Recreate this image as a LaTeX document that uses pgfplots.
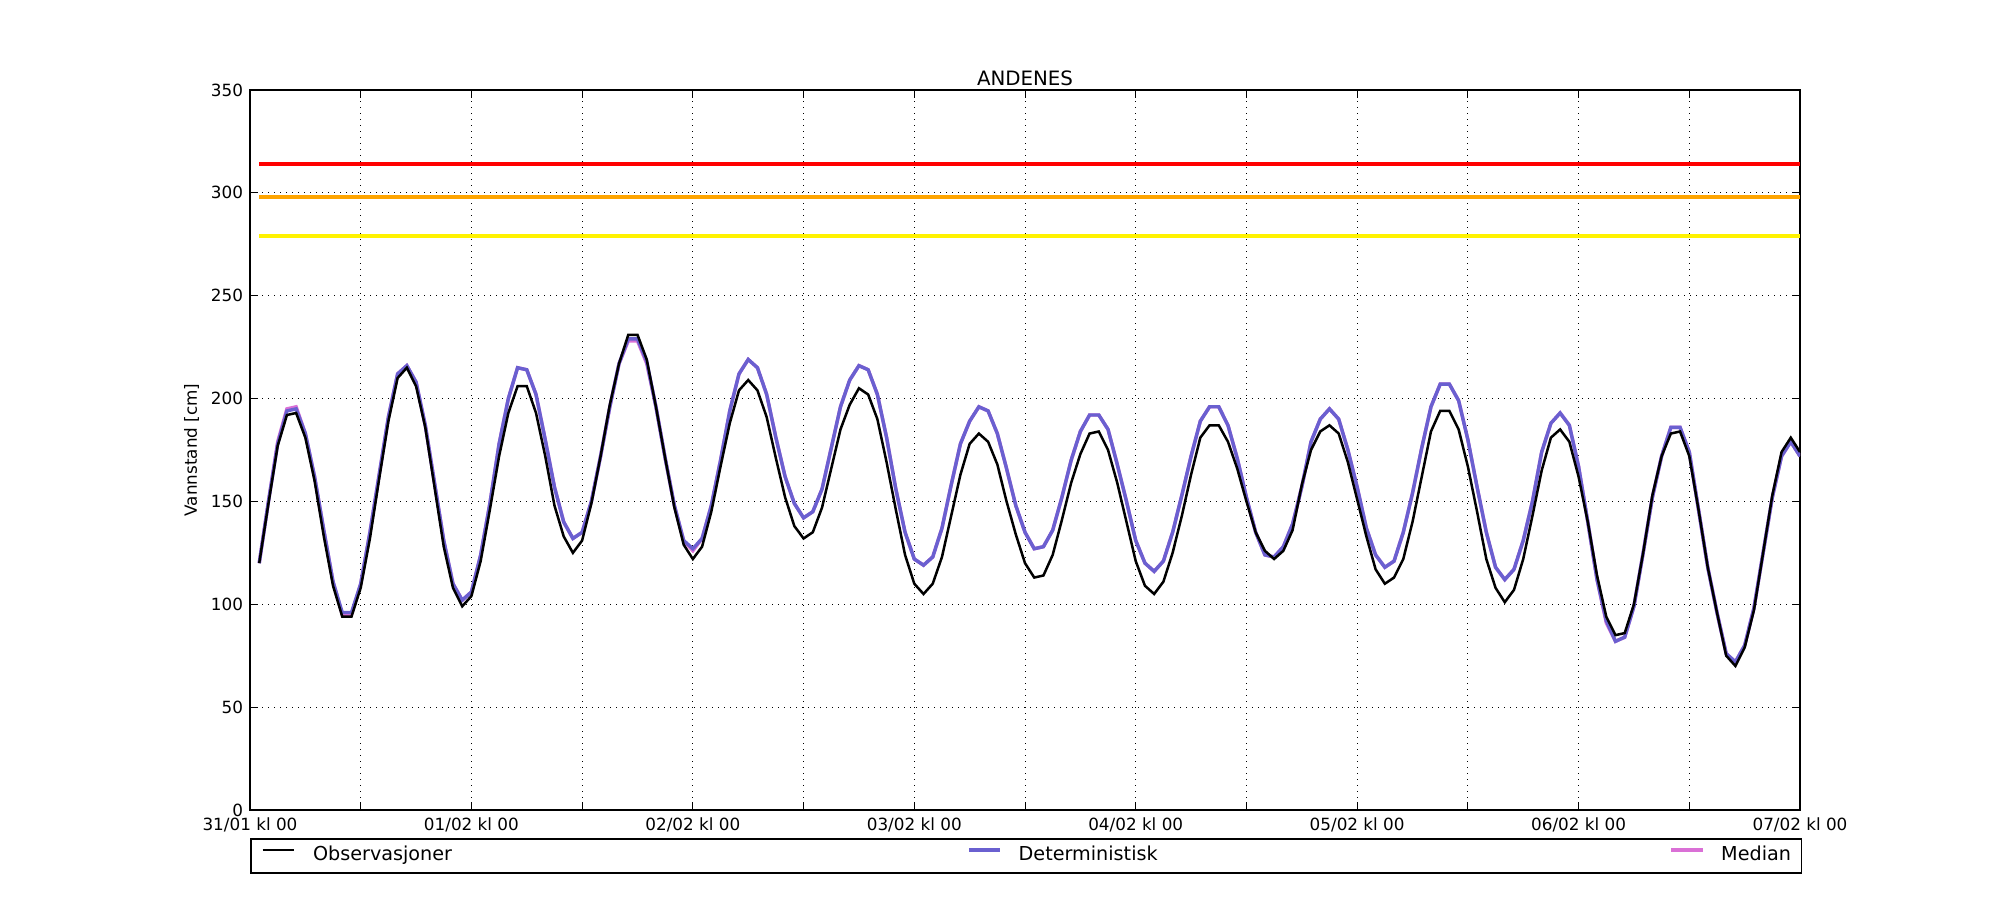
\documentclass[border=0pt]{standalone}
\usepackage{fontspec}
\setmainfont{DejaVu Sans}
\usepackage{pgfplots}
\pgfplotsset{compat=1.18}
\usepackage{pgfplotstable}
\definecolor{detblue}{RGB}{106,96,208}
\definecolor{medpink}{RGB}{218,112,214}
\definecolor{throrange}{RGB}{255,165,0}

\pgfplotstableread{
h obs det med
1 120 120 120
2 149 150 150
3 177 178 179
4 192 194 195
5 193 195 196
6 181 183 183
7 160 162 162
8 133 136 136
9 109 111 111
10 94 96 95
11 94 96 95
12 108 110 110
13 132 135 135
14 161 163 163
15 189 191 191
16 210 212 212
17 215 216 216
18 206 208 208
19 186 187 187
20 157 159 159
21 128 131 131
22 108 110 110
23 99 102 102
24 104 106 106
25 121 124 124
26 146 149 149
27 172 178 178
28 193 200 200
29 206 215 215
30 206 214 214
31 193 202 202
32 172 180 180
33 148 157 157
34 133 140 140
35 125 132 132
36 131 135 135
37 149 150 150
38 172 172 172
39 197 196 196
40 217 217 217
41 231 229 228
42 231 229 228
43 219 218 217
44 196 196 196
45 171 171 171
46 147 148 148
47 129 131 131
48 122 127 126
49 128 132 132
50 145 148 148
51 167 170 170
52 188 194 194
53 204 212 212
54 209 219 219
55 204 215 215
56 191 202 202
57 171 181 181
58 152 162 162
59 138 149 149
60 132 142 142
61 135 145 145
62 147 156 156
63 166 176 176
64 185 196 196
65 197 209 209
66 205 216 216
67 202 214 214
68 190 202 202
69 169 181 181
70 146 156 156
71 124 135 135
72 110 122 122
73 105 119 119
74 110 123 123
75 123 137 137
76 143 158 158
77 163 178 178
78 178 189 189
79 183 196 196
80 179 194 194
81 168 183 183
82 150 166 166
83 134 148 148
84 120 135 135
85 113 127 127
86 114 128 128
87 124 136 136
88 141 152 152
89 159 170 170
90 173 184 184
91 183 192 192
92 184 192 192
93 175 185 185
94 159 168 168
95 140 150 150
96 121 131 131
97 109 120 120
98 105 116 116
99 111 121 121
100 125 135 135
101 143 153 153
102 163 172 172
103 181 189 189
104 187 196 196
105 187 196 196
106 179 187 187
107 166 171 171
108 150 152 152
109 135 135 135
110 126 124 124
111 122 123 123
112 126 128 128
113 136 139 139
114 158 157 157
115 175 179 179
116 184 190 190
117 187 195 195
118 183 190 190
119 169 175 175
120 151 157 157
121 133 137 137
122 117 124 124
123 110 118 118
124 113 121 121
125 122 135 135
126 140 154 154
127 162 176 176
128 184 196 196
129 194 207 207
130 194 207 207
131 185 199 199
132 167 180 180
133 145 157 157
134 122 135 135
135 108 118 118
136 101 112 112
137 107 117 117
138 122 131 131
139 143 150 150
140 165 174 174
141 181 188 188
142 185 193 193
143 179 187 187
144 162 167 167
145 140 140 140
146 114 112 112
147 94 92 91
148 85 82 82
149 86 84 84
150 100 99 99
151 125 125 125
152 153 152 152
153 172 172 172
154 183 186 186
155 184 186 186
156 172 174 174
157 146 146 146
158 118 118 118
159 96 96 96
160 75 76 76
161 70 72 72
162 79 80 80
163 97 98 98
164 125 125 125
165 153 152 152
166 174 172 172
167 181 179 179
168 174 172 172
}\datatable

\pgfplotstableread{
h lvl
1 314
168 314
}\redtable
\pgfplotstableread{
h lvl
1 298
168 298
}\orangetable
\pgfplotstableread{
h lvl
1 279
168 279
}\yellowtable

\begin{document}
\begin{tikzpicture}
\useasboundingbox (-125bp,-45bp) rectangle (875bp,405bp);
\begin{axis}[
  at={(0,0)}, anchor=south west,
  scale only axis, width=775bp, height=360bp,
  xmin=0, xmax=168, ymin=0, ymax=350,
  xtick={0,12,...,168},
  xticklabels={31/01 kl 00,,01/02 kl 00,,02/02 kl 00,,03/02 kl 00,,04/02 kl 00,,05/02 kl 00,,06/02 kl 00,,07/02 kl 00},
  ytick={0,50,...,350},
  tick align=inside,
  major tick length=4bp,
  tick style={black, line width=0.5bp},
  xtick pos=both, ytick pos=both,
  grid=major,
  grid style={black, line width=0.5bp, dash pattern=on 0.6bp off 2.4bp},
  axis line style={black, line width=0.8bp},
  /pgf/number format/assume math mode=true,
  tick label style={font=\fontsize{8.4bp}{10bp}\selectfont},
  xticklabel style={yshift=-0.5bp},
  ylabel={Vannstand [cm]},
  ylabel style={font=\fontsize{8.4bp}{10bp}\selectfont, yshift=-1bp},
  title={ANDENES},
  title style={font=\fontsize{9.9bp}{12bp}\selectfont, yshift=-7.3bp},
  legend columns=3,
  legend style={
    at={(0,-0.0389)}, anchor=north west,
    draw=black, line width=0.8bp, fill=white,
    inner xsep=5.3bp, inner ysep=4bp,
    nodes={inner sep=0pt, font=\fontsize{9.6bp}{11bp}\selectfont, text height=7bp, text depth=2bp},
    column sep=0pt,
  },
  legend cell align=left,
  legend image code/.code={\draw[#1] (0bp,3bp) -- (15.8bp,3bp);},
]
\addlegendimage{black, line width=1.25bp}
\addlegendentry{\makebox[335.8bp][l]{\hspace{8.75bp}Observasjoner}}
\addlegendimage{detblue, line width=1.7bp}
\addlegendentry{\makebox[333.7bp][l]{\hspace{8.3bp}Deterministisk}}
\addlegendimage{medpink, line width=1.7bp}
\addlegendentry{\hspace{8.35bp}Median}

\addplot[red, line width=1.6bp, forget plot] table[x=h, y=lvl] {\redtable};
\addplot[throrange, line width=1.6bp, forget plot] table[x=h, y=lvl] {\orangetable};
\addplot[yellow, line width=1.6bp, forget plot] table[x=h, y=lvl] {\yellowtable};

\addplot[medpink, line width=1.7bp, forget plot] table[x=h, y=med] {\datatable};
\addplot[detblue, line width=1.7bp, forget plot] table[x=h, y=det] {\datatable};
\addplot[black, line width=1.25bp, forget plot] table[x=h, y=obs] {\datatable};
\end{axis}
\end{tikzpicture}
\end{document}
